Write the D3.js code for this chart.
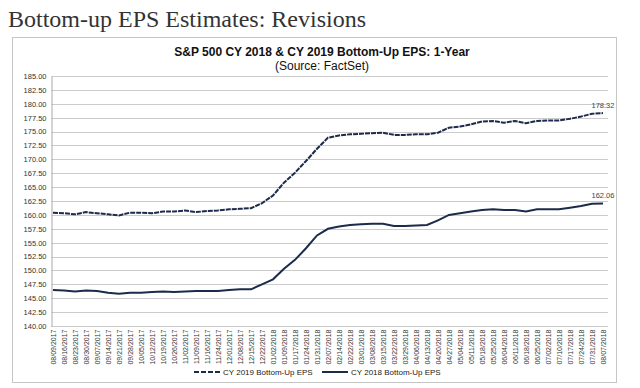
<!DOCTYPE html>
<html>
<head>
<meta charset="utf-8">
<script src="https://cdn.jsdelivr.net/npm/d3@7"></script>
<style>
  body { margin: 0; background: #fff; }
  svg { display: block; }
</style>
</head>
<body>
<div id="chart"></div>
<script>
// weekly label dates (every 5th trading day)
const dates = [
  '08/09/2017', '08/16/2017', '08/23/2017', '08/30/2017', '09/07/2017', '09/14/2017',
  '09/21/2017', '09/28/2017', '10/05/2017', '10/12/2017', '10/19/2017', '10/26/2017',
  '11/02/2017', '11/09/2017', '11/16/2017', '11/24/2017', '12/01/2017', '12/08/2017',
  '12/15/2017', '12/22/2017', '01/02/2018', '01/09/2018', '01/17/2018', '01/24/2018',
  '01/31/2018', '02/07/2018', '02/14/2018', '02/22/2018', '03/01/2018', '03/08/2018',
  '03/15/2018', '03/22/2018', '03/29/2018', '04/06/2018', '04/13/2018', '04/20/2018',
  '04/27/2018', '05/04/2018', '05/11/2018', '05/18/2018', '05/25/2018', '06/04/2018',
  '06/11/2018', '06/18/2018', '06/25/2018', '07/02/2018', '07/10/2018', '07/17/2018',
  '07/24/2018', '07/31/2018', '08/07/2018'
]

const cy2019 = [
  160.4, 160.3, 160.1, 160.5, 160.3, 160.1, 159.9, 160.4, 160.4, 160.3, 160.6, 160.6,
  160.8, 160.5, 160.7, 160.8, 161.0, 161.1, 161.2, 162.1, 163.5, 165.8, 167.6, 169.7,
  171.9, 173.9, 174.3, 174.5, 174.6, 174.7, 174.8, 174.4, 174.4, 174.5, 174.5, 174.8,
  175.7, 175.9, 176.3, 176.8, 176.9, 176.6, 176.9, 176.5, 176.9, 177.0, 177.0, 177.3,
  177.7, 178.2, 178.32
]

const cy2018 = [
  146.5, 146.4, 146.2, 146.4, 146.3, 146.0, 145.8, 146.0, 146.0, 146.1, 146.2, 146.1,
  146.2, 146.3, 146.3, 146.3, 146.5, 146.6, 146.6, 147.5, 148.4, 150.3, 151.9, 154.0,
  156.3, 157.5, 157.9, 158.2, 158.3, 158.4, 158.4, 158.0, 158.0, 158.1, 158.2, 159.0,
  160.0, 160.3, 160.6, 160.9, 161.0, 160.9, 160.9, 160.6, 161.0, 161.0, 161.0, 161.3,
  161.6, 162.0, 162.06
]

const yTicks = [140, 142.5, 145, 147.5, 150, 152.5, 155, 157.5, 160, 162.5, 165,
  167.5, 170, 172.5, 175, 177.5, 180, 182.5, 185]

const lineColor = '#1c2a4b'

const svg = d3.select('#chart')
  .append('svg')
  .attr('width', 640)
  .attr('height', 388)

// page heading
svg.append('text')
  .attr('x', 8)
  .attr('y', 27)
  .style('font-family', '"Liberation Serif", serif')
  .style('font-size', '24px')
  .style('fill', '#333')
  .text('Bottom-up EPS Estimates: Revisions')

// chart frame
svg.append('rect')
  .attr('x', 12.5)
  .attr('y', 37.5)
  .attr('width', 604)
  .attr('height', 345)
  .attr('fill', '#fff')
  .attr('stroke', '#c6c6c6')

svg.append('text')
  .attr('x', 322)
  .attr('y', 56)
  .attr('text-anchor', 'middle')
  .style('font-family', '"Liberation Sans", Arial, sans-serif')
  .style('font-size', '12px')
  .style('font-weight', 'bold')
  .style('fill', '#111')
  .text('S&P 500 CY 2018 & CY 2019 Bottom-Up  EPS: 1-Year')

svg.append('text')
  .attr('x', 322)
  .attr('y', 70)
  .attr('text-anchor', 'middle')
  .style('font-family', '"Liberation Sans", Arial, sans-serif')
  .style('font-size', '12px')
  .style('fill', '#111')
  .text('(Source: FactSet)')

const plot = { left: 51.5, right: 608, top: 76, bottom: 326 }

const xScale = d3.scalePoint()
  .domain(dates)
  .range([53, 603])

const yScale = d3.scaleLinear()
  .domain([140, 185])
  .range([plot.bottom, plot.top])

// gridlines
svg.append('g')
  .selectAll('line')
  .data(yTicks.slice(1))
  .join('line')
  .attr('x1', plot.left)
  .attr('x2', plot.right)
  .attr('y1', (d) => Math.round(yScale(d)) + 0.5)
  .attr('y2', (d) => Math.round(yScale(d)) + 0.5)
  .attr('stroke', '#cccccc')

// y axis
const yAxis = d3.axisLeft(yScale)
  .tickValues(yTicks)
  .tickFormat(d3.format('.2f'))
  .tickSize(0)
  .tickPadding(5)

const yG = svg.append('g')
  .attr('transform', `translate(${plot.left}, 0)`)
  .call(yAxis)
yG.select('.domain').attr('stroke', '#a8a8a8')
yG.selectAll('text')
  .style('font-family', '"Liberation Sans", Arial, sans-serif')
  .style('font-size', '7.5px')
  .style('fill', '#333')

// x axis
const xAxis = d3.axisBottom(xScale)
  .tickSize(0)
  .tickPadding(3)

const xG = svg.append('g')
  .attr('transform', `translate(0, ${plot.bottom + 0.5})`)
  .call(xAxis)
xG.select('.domain')
  .attr('d', `M${plot.left},0H${plot.right}`)
  .attr('stroke', '#999')
  .attr('stroke-dasharray', '1,1')
xG.selectAll('text')
  .attr('transform', 'rotate(-90)')
  .attr('text-anchor', 'end')
  .attr('x', -3)
  .attr('y', 0)
  .attr('dy', '0.32em')
  .style('font-family', '"Liberation Sans", Arial, sans-serif')
  .style('font-size', '7px')
  .style('fill', '#333')

const line = d3.line()
  .x((d, i) => xScale(dates[i]))
  .y((d) => yScale(d))

svg.append('path')
  .attr('d', line(cy2019))
  .attr('fill', 'none')
  .attr('stroke', lineColor)
  .attr('stroke-width', 2)
  .attr('stroke-dasharray', '5,1')

svg.append('path')
  .attr('d', line(cy2018))
  .attr('fill', 'none')
  .attr('stroke', lineColor)
  .attr('stroke-width', 2)

// end value labels
const endLabels = [cy2019[cy2019.length - 1], cy2018[cy2018.length - 1]]
svg.append('g')
  .selectAll('text')
  .data(endLabels)
  .join('text')
  .attr('x', xScale(dates[dates.length - 1]))
  .attr('y', (d) => yScale(d) - 5)
  .attr('text-anchor', 'middle')
  .style('font-family', '"Liberation Sans", Arial, sans-serif')
  .style('font-size', '7.5px')
  .style('fill', '#444')
  .text((d) => d.toFixed(2))

// legend
const legend = [
  { name: 'CY 2019 Bottom-Up EPS', x: 194, dash: '5,2' },
  { name: 'CY 2018 Bottom-Up EPS', x: 322, dash: null }
]
const lg = svg.append('g')
  .selectAll('g')
  .data(legend)
  .join('g')
  .attr('transform', (d) => `translate(${d.x}, 372)`)
lg.append('line')
  .attr('x1', 0)
  .attr('x2', 26)
  .attr('stroke', lineColor)
  .attr('stroke-width', 2)
  .attr('stroke-dasharray', (d) => d.dash)
lg.append('text')
  .attr('x', 29)
  .attr('dy', '0.32em')
  .style('font-family', '"Liberation Sans", Arial, sans-serif')
  .style('font-size', '8px')
  .style('fill', '#222')
  .text((d) => d.name)
</script>
</body>
</html>
